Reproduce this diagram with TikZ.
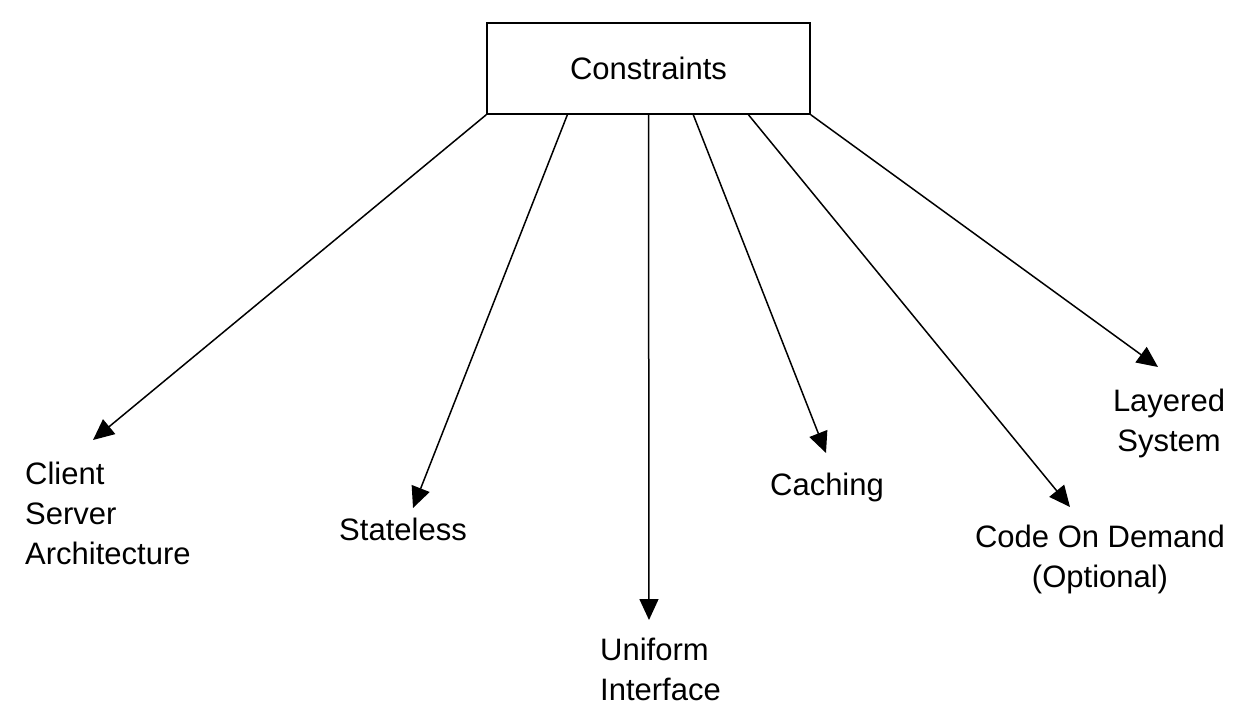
\documentclass[tikz,border=0pt]{standalone}
\usepackage{fontspec}
\setmainfont{Liberation Sans}
\usetikzlibrary{arrows.meta,positioning,calc}

\begin{document}
\begin{tikzpicture}[x=1pt, y=-1pt,
  every node/.style={font=\fontsize{31}{40}\selectfont, inner sep=0pt},
  lbl/.style={align=center},
  con/.style={-{Triangle[length=21pt,width=19pt]}, line width=1.5pt}]
\useasboundingbox (0,0) rectangle (1250,726);
\node[draw, line width=1.5pt, minimum width=323pt, minimum height=91pt] (cons) at (648.5,68.5) {Constraints};
% labels
\node[lbl, align=left, anchor=west] (client) at (25,513) {Client\\Server\\Architecture};
\node[lbl] (stateless) at (403,529) {Stateless};
\node[lbl, align=left, anchor=west] (uniform) at (600,669) {Uniform\\Interface};
\node[lbl] (caching) at (827,487) {Caching};
\node[lbl] (code) at (1100,559) {Code On Demand\\(Optional)};
\node[lbl] (layered) at (1169,423) {Layered\\System};
% arrow tips
\coordinate (tclient) at (93,440);
\coordinate (tstateless) at (413,508);
\coordinate (tuniform) at (649,620);
\coordinate (tcaching) at (826,453);
\coordinate (tcode) at (1070,507);
\coordinate (tlayered) at (1158,367);
\draw[con] (cons.south west) -- (tclient);
\draw[con] ($(cons.south west)!0.25!(cons.south east)$) -- (tstateless);
\draw[con] (cons.south) -- (tuniform);
\draw[con] ($(cons.south west)!0.638!(cons.south east)$) -- (tcaching);
\draw[con] ($(cons.south west)!0.808!(cons.south east)$) -- (tcode);
\draw[con] (cons.south east) -- (tlayered);
\end{tikzpicture}
\end{document}
